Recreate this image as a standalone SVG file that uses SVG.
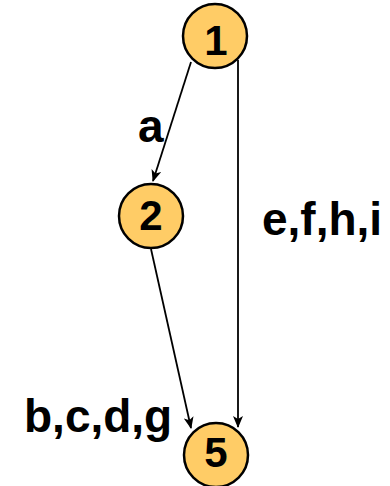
<svg xmlns="http://www.w3.org/2000/svg" width="390" height="486" viewBox="0 0 390 486">
  <style>
    .node circle { fill: #FFCC66; stroke: #000; stroke-width: 2.5; }
    .node text { font-family: "Liberation Sans", Arial, sans-serif; font-weight: bold; font-size: 42px; text-anchor: middle; fill: #000; }
    .edge { stroke: #000; stroke-width: 1.8; fill: none; marker-end: url(#arrow); }
    .label { font-family: "Liberation Sans", Arial, sans-serif; font-weight: bold; font-size: 46px; fill: #000; }
  </style>
  <defs>
    <marker id="arrow" markerWidth="12" markerHeight="10" refX="11" refY="5" orient="auto" markerUnits="userSpaceOnUse">
      <path d="M0,0 L12,5 L0,10 L3,5 Z" fill="#000"/>
    </marker>
  </defs>
  <rect width="390" height="486" fill="#fff"/>

  <g id="edges">
    <path class="edge" d="M191,62 L153,181"/>
    <path class="edge" d="M238,60 L238,427"/>
    <path class="edge" d="M151,249 L191,428"/>
  </g>

  <g id="labels">
    <text class="label" x="138" y="142">a</text>
    <text class="label" x="262" y="235">e,f,h,i</text>
    <text class="label" x="24" y="432">b,c,d,g</text>
  </g>

  <g id="node1" class="node">
    <circle cx="215" cy="36" r="32"/>
    <text x="216" y="55">1</text>
  </g>
  <g id="node2" class="node">
    <circle cx="151" cy="216" r="32"/>
    <text x="151" y="230">2</text>
  </g>
  <g id="node5" class="node">
    <circle cx="216" cy="455" r="32"/>
    <text x="216" y="467">5</text>
  </g>
</svg>
